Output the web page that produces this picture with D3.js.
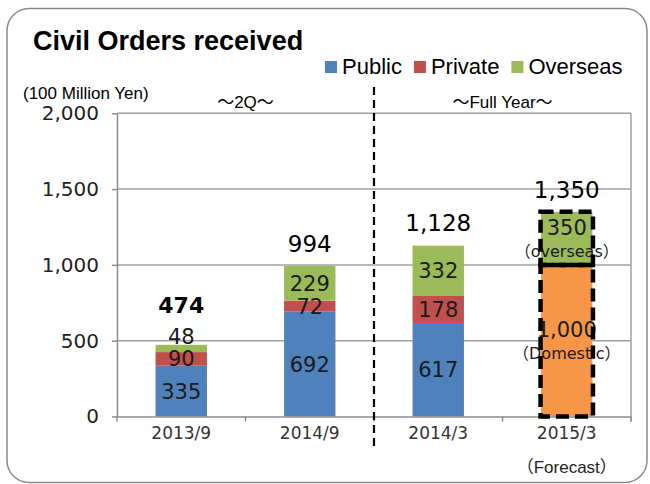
<!DOCTYPE html>
<html>
<head>
<meta charset="utf-8">
<script src="https://cdn.jsdelivr.net/npm/d3@7"></script>
<style>
  body { margin: 0; background: #fff; }
  svg { display: block; }
</style>
</head>
<body>
<svg id="chart" width="650" height="484"></svg>
<script>
const categories = ['2013/9', '2014/9', '2014/3', '2015/3'];
const subLabels = ['', '', '', '（Forecast）'];
const publicVals = [335, 692, 617, 0];
const privateVals = [90, 72, 178, 0];
const domesticVals = [0, 0, 0, 1000];
const overseasVals = [48, 229, 332, 350];
const totals = [474, 994, 1128, 1350];
const yTicks = [0, 500, 1000, 1500, 2000];
const legendItems = ['Public', 'Private', 'Overseas'];
const periodLabels = ['～2Q～', '～Full Year～'];
const forecastIndex = 3;

const colors = {
  public: '#4f81bd',
  private: '#c0504d',
  domestic: '#f79646',
  overseas: '#9bbb59'
};
const notes = { domestic: '（Domestic）', overseas: '（overseas）' };

const numFont = '"DejaVu Sans", "Noto Sans CJK JP", sans-serif';
const txtFont = '"Liberation Sans", Arial, "Noto Sans CJK JP", sans-serif';

const svg = d3.select('#chart');

// card frame
svg.append('rect')
  .attr('x', 7).attr('y', 8.5)
  .attr('width', 640).attr('height', 474)
  .attr('rx', 22)
  .attr('fill', '#fff')
  .attr('stroke', '#8a8a8a')
  .attr('stroke-width', 1.5);

svg.append('text')
  .attr('x', 33).attr('y', 50)
  .attr('font-family', txtFont)
  .attr('font-weight', 'bold')
  .attr('font-size', 27)
  .text('Civil Orders received');

let x = d3.scaleBand()
  .domain(categories)
  .range([117, 631])
  .paddingInner(0.6)
  .paddingOuter(0.3);

let y = d3.scaleLinear()
  .domain([0, 2000])
  .range([416.5, 113.3]);

// legend
let lx = 325;
let legendColors = [colors.public, colors.private, colors.overseas];
legendItems.forEach((name, i) => {
  svg.append('rect')
    .attr('x', lx).attr('y', 61)
    .attr('width', 12).attr('height', 12)
    .attr('fill', legendColors[i]);
  let t = svg.append('text')
    .attr('x', lx + 17).attr('y', 74)
    .attr('font-family', txtFont)
    .attr('font-size', 22)
    .text(name);
  lx += 17 + t.node().getComputedTextLength() + 12;
});

svg.append('text')
  .attr('x', 23).attr('y', 99)
  .attr('font-family', txtFont)
  .attr('font-size', 17)
  .text('(100 Million Yen)');

// gridlines
svg.append('g')
  .selectAll('line')
  .data(yTicks.filter(d => d > 0))
  .join('line')
  .attr('x1', 117).attr('x2', 631)
  .attr('y1', d => y(d)).attr('y2', d => y(d))
  .attr('stroke', '#a0a0a0')
  .attr('stroke-width', 1.5);

// y axis
let yAxis = svg.append('g')
  .attr('transform', 'translate(117,0)')
  .call(d3.axisLeft(y).tickValues(yTicks).tickFormat(d3.format(',')).tickSize(5).tickSizeOuter(0).tickPadding(13));
yAxis.select('.domain').attr('stroke', '#8c8c8c').attr('stroke-width', 1.5);
yAxis.selectAll('.tick line').attr('stroke', '#8c8c8c').attr('stroke-width', 1.5);
yAxis.selectAll('text')
  .attr('font-family', numFont)
  .attr('font-size', 20)
  .attr('fill', '#222');

// right border
svg.append('line')
  .attr('x1', 631).attr('x2', 631)
  .attr('y1', y(2000)).attr('y2', y(0) + 5)
  .attr('stroke', '#a0a0a0').attr('stroke-width', 1.5);

// stacked bars
let rows = categories.map((c, i) => ({
  cat: c,
  public: publicVals[i],
  private: privateVals[i],
  domestic: domesticVals[i],
  overseas: overseasVals[i]
}));
let keys = ['public', 'private', 'domestic', 'overseas'];
let series = d3.stack().keys(keys)(rows);

let bw = x.bandwidth();
series.forEach(s => {
  svg.append('g')
    .selectAll('rect')
    .data(s)
    .join('rect')
    .attr('x', d => x(d.data.cat))
    .attr('width', bw)
    .attr('y', d => y(d[1]))
    .attr('height', d => y(d[0]) - y(d[1]))
    .attr('fill', colors[s.key]);
});

// x axis
let xAxis = svg.append('g')
  .attr('transform', `translate(0,${y(0)})`)
  .call(d3.axisBottom(x).tickSize(0).tickPadding(10.5));
xAxis.select('.domain').attr('stroke', '#8c8c8c').attr('stroke-width', 1.5);
xAxis.selectAll('text')
  .attr('font-family', numFont)
  .attr('font-size', 17)
  .attr('fill', '#333');

let bounds = categories.map(c => x(c) + bw / 2 - x.step() / 2);
bounds.push(x(categories[categories.length - 1]) + bw / 2 + x.step() / 2);
svg.append('g')
  .selectAll('line')
  .data(bounds)
  .join('line')
  .attr('x1', d => d).attr('x2', d => d)
  .attr('y1', y(0)).attr('y2', y(0) + 5)
  .attr('stroke', '#8c8c8c').attr('stroke-width', 1.5);

svg.append('g')
  .selectAll('text')
  .data(subLabels)
  .join('text')
  .attr('x', (d, i) => x(categories[i]) + bw / 2)
  .attr('y', 473)
  .attr('text-anchor', 'middle')
  .attr('font-family', txtFont)
  .attr('font-size', 17)
  .attr('fill', '#222')
  .text(d => d);

// period labels + divider
let half1 = (x(categories[0]) + x(categories[1])) / 2 + bw / 2;
let half2 = (x(categories[2]) + x(categories[3])) / 2 + bw / 2;
svg.append('g')
  .selectAll('text')
  .data(periodLabels)
  .join('text')
  .attr('x', (d, i) => i === 0 ? half1 : half2)
  .attr('y', 108)
  .attr('text-anchor', 'middle')
  .attr('font-family', txtFont)
  .attr('font-size', 17)
  .text(d => d);

svg.append('line')
  .attr('x1', bounds[2]).attr('x2', bounds[2])
  .attr('y1', 87).attr('y2', 447)
  .attr('stroke', '#000')
  .attr('stroke-width', 2.2)
  .attr('stroke-dasharray', '8,5');

// segment labels
let fmt = d3.format(',');
let lifted = categories.map(() => false);
series.forEach((s, si) => {
  s.forEach((d, i) => {
    let v = d[1] - d[0];
    if (v <= 0) return;
    let cx = x(d.data.cat) + bw / 2;
    let top = y(d[1]), bottom = y(d[0]);
    let cy = (top + bottom) / 2;
    let isTop = si === series.length - 1;
    if (isTop && bottom - top < 10) {
      cy = top - 8;
      lifted[i] = true;
    }
    let withNote = i === forecastIndex && notes[s.key];
    svg.append('text')
      .attr('x', cx)
      .attr('y', withNote ? cy - 11 : cy)
      .attr('dy', '0.36em')
      .attr('text-anchor', 'middle')
      .attr('font-family', numFont)
      .attr('font-size', 21)
      .attr('fill', '#1a1a1a')
      .text(fmt(v));
    if (withNote) {
      svg.append('text')
        .attr('x', cx)
        .attr('y', cy + 12.5)
        .attr('dy', '0.36em')
        .attr('text-anchor', 'middle')
        .attr('font-family', numFont)
        .attr('font-size', 16)
        .attr('fill', '#1a1a1a')
        .text(notes[s.key]);
    }
  });
});

// forecast dashed outlines
series.filter(s => s.key === 'domestic' || s.key === 'overseas').forEach(s => {
  let d = s[forecastIndex];
  svg.append('rect')
    .attr('x', x(d.data.cat) - 0.5)
    .attr('width', bw + 1)
    .attr('y', y(d[1]))
    .attr('height', y(d[0]) - y(d[1]))
    .attr('fill', 'none')
    .attr('stroke', '#000')
    .attr('stroke-width', 4.5)
    .attr('stroke-dasharray', '13,6');
});

// totals
svg.append('g')
  .selectAll('text')
  .data(totals)
  .join('text')
  .attr('x', (d, i) => x(categories[i]) + bw / 2)
  .attr('y', (d, i) => y(d) - (lifted[i] ? 40 : 22.5))
  .attr('dy', '0.36em')
  .attr('text-anchor', 'middle')
  .attr('font-family', numFont)
  .attr('font-size', (d, i) => i === 0 ? 22 : 23)
  .attr('font-weight', (d, i) => i === 0 ? 'bold' : 'normal')
  .attr('fill', '#000')
  .text(d => fmt(d));
</script>
</body>
</html>
